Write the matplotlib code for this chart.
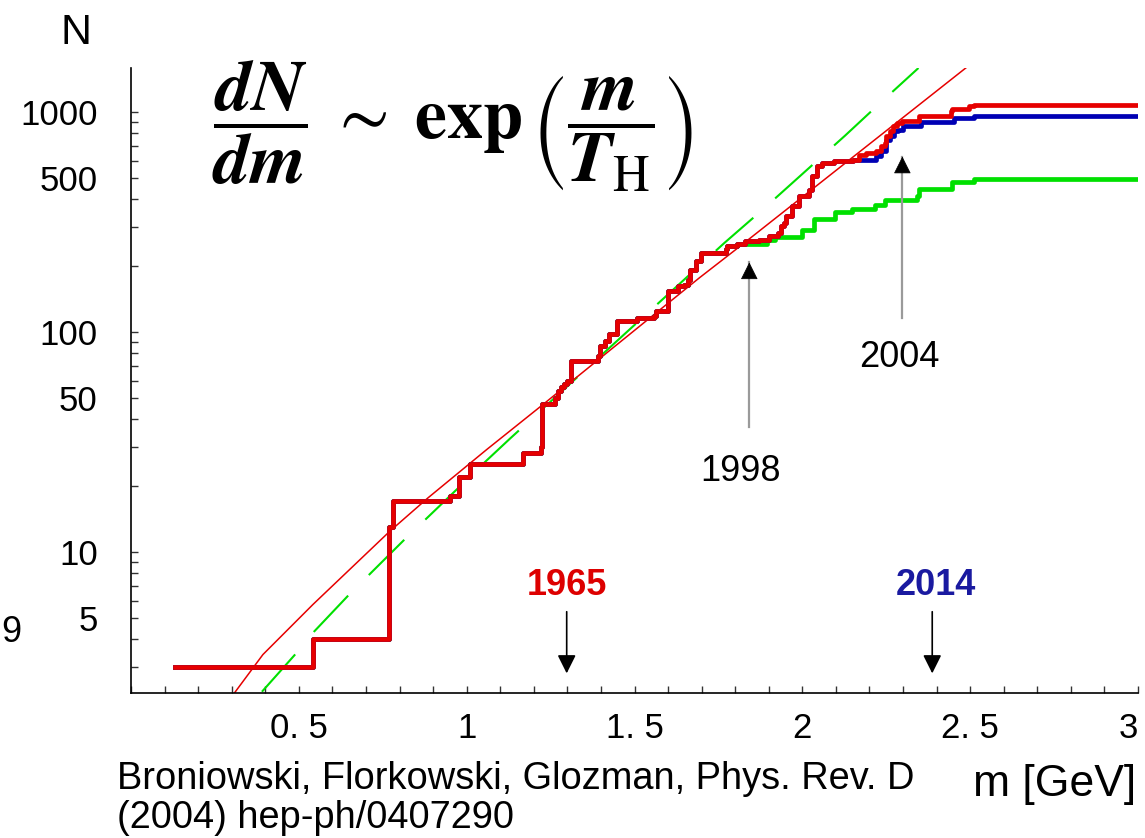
import matplotlib
matplotlib.use("Agg")
import matplotlib.pyplot as plt
from matplotlib.ticker import FixedLocator, FixedFormatter, LogLocator, NullFormatter, MultipleLocator

plt.rcParams['font.family'] = ['Liberation Sans', 'DejaVu Sans']
plt.rcParams['mathtext.fontset'] = 'stix'

# ---- cumulative number of meson states N(m), mass m in GeV ----
# part common to all three compilations
shared_m = [0.131, 0.542, 0.768, 0.780, 0.950, 0.977, 1.010, 1.168, 1.221, 1.224,
            1.264, 1.272, 1.280, 1.290, 1.300, 1.312, 1.391, 1.396, 1.413, 1.425,
            1.448, 1.508, 1.558, 1.565, 1.600, 1.629, 1.648, 1.660, 1.664, 1.683,
            1.698, 1.773]
shared_n = [3, 4, 13, 17, 18, 22, 25, 28, 30, 47,
            50, 54, 56, 58, 60, 74, 78, 86, 91, 98,
            112, 116, 118, 124, 154, 161, 164, 173, 192, 210,
            229, 237]

# red: climbs through the 2 GeV region
red_mid_m = [1.776, 1.806, 1.830, 1.872, 1.900, 1.927, 1.935, 1.945, 1.952, 1.970,
             1.990, 2.020, 2.030, 2.045, 2.060, 2.095]
red_mid_n = [245, 250, 259, 263, 272, 282, 303, 313, 336, 373,
             414, 444, 510, 566, 587, 597]
red_tail_m = [2.150, 2.170, 2.190, 2.220, 2.233, 2.245, 2.250, 2.260, 2.270, 2.283,
              2.298, 2.348, 2.442, 2.447, 2.497, 2.512, 3.0]
red_tail_n = [608, 640, 651, 662, 698, 723, 775, 817, 861, 891,
              906, 962, 1006, 1032, 1060, 1076, 1076]

# blue: follows red up to ~2.1 GeV, then lower
blue_tail_m = [2.170, 2.220, 2.235, 2.250, 2.262, 2.273, 2.285, 2.300, 2.338, 2.353,
               2.452, 2.512, 3.0]
blue_tail_n = [608, 631, 664, 748, 775, 817, 832, 861, 867, 897,
               940, 962, 962]

# green: flattens above ~1.8 GeV
green_tail_m = [1.776, 1.806, 1.896, 1.920, 2.000, 2.035, 2.098, 2.149, 2.217, 2.247,
                2.342, 2.348, 2.446, 2.512, 3.0]
green_tail_n = [245, 250, 263, 270, 292, 327, 350, 362, 376, 398,
                414, 445, 482, 498, 498]

# Hagedorn-type fits (thin red solid, green long-dashed)
fit_m = [0.300, 0.309, 0.393, 0.542, 0.771, 0.885, 1.060, 1.227, 1.693, 1.802, 2.500]
fit_n = [2.20, 2.29, 3.41, 5.76, 12.4, 17.6, 29.2, 46.7, 176, 237, 1644]
gfit_m = [0.390, 0.488, 0.545, 0.649, 0.711, 0.818, 0.885, 0.994, 1.058, 1.128,
          1.768, 1.882, 2.127, 2.237, 2.346]
gfit_n = [2.31, 3.40, 4.33, 6.37, 7.91, 11.5, 14.4, 20.8, 25.9, 32.6,
          254, 360, 780, 1117, 1585]

x_ticks = [0.5, 1.0, 1.5, 2.0, 2.5, 3.0]
x_labels = ['0. 5', '1', '1. 5', '2', '2. 5', '3']
y_ticks = [5, 10, 50, 100, 500, 1000]
y_labels = ['5', '10', '50', '100', '500', '1000']

RED = '#e60000'
BLUE = '#0000b4'
GREEN = '#00e000'

W, H = 1145, 838
fig = plt.figure(figsize=(W / 100, H / 100), dpi=100)
ax = fig.add_axes([131 / W, 1 - 693 / H, (1138 - 131) / W, (693 - 68) / H])
ax.set_yscale('log')
ax.set_xlim(0, 3)
ax.set_ylim(2.28, 1585)

ax.plot(gfit_m, gfit_n, color=GREEN, lw=1.5, dashes=(24, 14), zorder=2)
ax.plot(fit_m, fit_n, color=RED, lw=1.1, zorder=2)

green_m = shared_m + green_tail_m
green_n = shared_n + green_tail_n
blue_m = shared_m + red_mid_m + [2.150] + blue_tail_m
blue_n = shared_n + red_mid_n + [608] + blue_tail_n
red_m = shared_m + red_mid_m + red_tail_m
red_n = shared_n + red_mid_n + red_tail_n

ax.step(green_m, green_n, where='post', color=GREEN, lw=3.4, zorder=3)
ax.step(blue_m, blue_n, where='post', color=BLUE, lw=3.4, zorder=4)
ax.step(red_m, red_n, where='post', color=RED, lw=3.4, zorder=5)

# axes styling
for side in ('top', 'right'):
    ax.spines[side].set_visible(False)
for side in ('left', 'bottom'):
    ax.spines[side].set_linewidth(1.2)
ax.xaxis.set_major_locator(FixedLocator(x_ticks))
ax.xaxis.set_major_formatter(FixedFormatter(x_labels))
ax.xaxis.set_minor_locator(MultipleLocator(0.1))
ax.yaxis.set_major_locator(FixedLocator(y_ticks))
ax.yaxis.set_major_formatter(FixedFormatter(y_labels))
ax.yaxis.set_minor_locator(LogLocator(base=10, subs=range(1, 10), numticks=20))
ax.yaxis.set_minor_formatter(NullFormatter())
ax.tick_params(which='both', direction='in', length=5, width=1, color='#333333')
ax.tick_params(axis='x', which='major', labelsize=25, pad=14)
ax.tick_params(axis='y', which='major', labelsize=25, pad=24)
# keep the label at the right end of the axis inside the figure
fig.canvas.draw()
ax.get_xticklabels()[-1].set_horizontalalignment('right')

# year markers
def plain_arrow(x, tail, tip):
    ax.annotate('', xy=(x, tip), xytext=(x, tail),
                arrowprops=dict(arrowstyle='-|>', color='black', lw=1.2,
                                mutation_scale=28, shrinkA=0, shrinkB=0))

def grey_arrow(x, tail, tip):
    ax.plot([x, x], [tail, tip], color='#9a9a9a', lw=1.6, zorder=6)
    ax.annotate('', xy=(x, tip), xytext=(0, -11), textcoords='offset points',
                arrowprops=dict(arrowstyle='-|>', color='black', lw=0.5,
                                mutation_scale=28, shrinkA=0, shrinkB=0), zorder=7)

plain_arrow(1.298, 5.34, 2.80)
plain_arrow(2.387, 5.34, 2.80)
ax.text(1.298, 7.0, '1965', color='#dd0000', fontsize=26, fontweight='bold',
        ha='center', va='center')
ax.text(2.399, 7.0, '2014', color='#1a1aa0', fontsize=26, fontweight='bold',
        ha='center', va='center')

grey_arrow(1.842, 36.9, 207)
grey_arrow(2.298, 116, 627)
ax.text(1.815, 23.3, '1998', fontsize=26, ha='center', va='center')
ax.text(2.289, 76.7, '2004', fontsize=26, ha='center', va='center')

# labels and formula
fig.text(76 / W, 1 - 33 / H, 'N', fontsize=31, ha='center', va='center')
fig.text(1136 / W, 1 - 796 / H, 'm [GeV]', fontsize=32, ha='right', va='baseline')
fig.text(117 / W, 1 - 789 / H, 'Broniowski, Florkowski, Glozman, Phys. Rev. D',
         fontsize=27.4, ha='left', va='baseline')
fig.text(117 / W, 1 - 828 / H, '(2004) hep-ph/0407290',
         fontsize=27.4, ha='left', va='baseline')
fig.text(1 / W, 1 - 633 / H, '9', fontsize=26, ha='left', va='center')
fig.text(452 / W, 1 - 126 / H,
         r'$\dfrac{\mathbfit{dN}}{\mathbfit{dm}}\;\sim\;\mathbf{exp}\,'
         r'\left(\dfrac{\mathbfit{m}}{\mathbfit{T}_{\mathrm{H}}}\right)$',
         fontsize=52, ha='center', va='center')

fig.savefig('out.png', dpi=100)
